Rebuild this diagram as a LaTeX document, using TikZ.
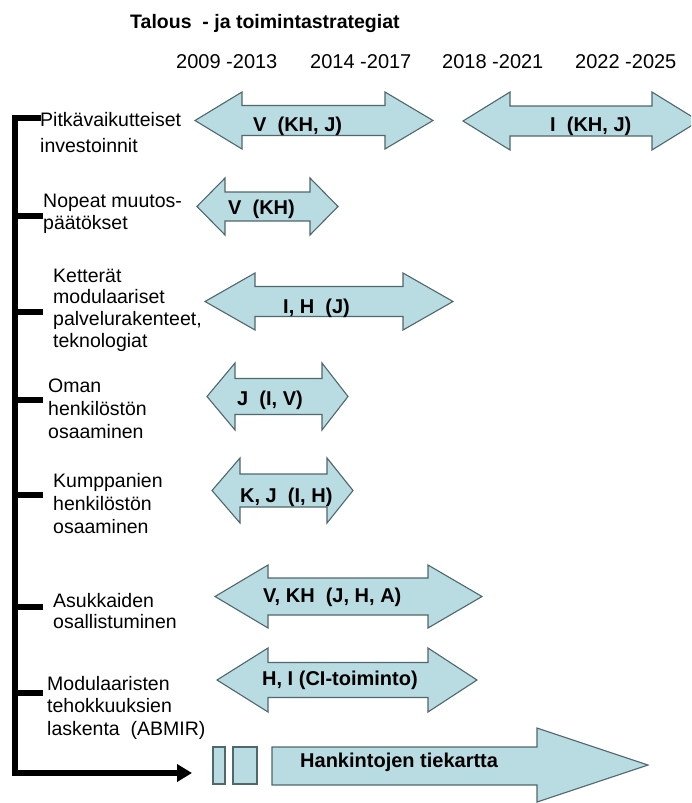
\documentclass[tikz,border=0pt]{standalone}
\usepackage{fontspec}
\setmainfont{Liberation Sans}
\usetikzlibrary{arrows.meta}
\definecolor{bandfill}{HTML}{B8DCE2}
\definecolor{bandline}{HTML}{50676B}
% stacked lines whose base anchor is the first line's baseline
\newcommand\stacklines[1]{\begin{tabular}[t]{@{}l@{}}#1\end{tabular}}
% double-headed band arrow:
% #1 left tip x, #2 left head base x, #3 right head base x, #4 right tip x,
% #5 centre y, #6 head half height, #7 shaft half height
\newcommand\twoway[7]{%
  \draw[band] (#1,#5) -- (#2,#5-#6) -- (#2,#5-#7) -- (#3,#5-#7) -- (#3,#5-#6)
    -- (#4,#5) -- (#3,#5+#6) -- (#3,#5+#7) -- (#2,#5+#7) -- (#2,#5+#6) -- cycle;}
\begin{document}
\begin{tikzpicture}[x=1pt,y=-1pt,
  band/.style={fill=bandfill,draw=bandline,line width=1.1pt,line join=miter},
  bandtext/.style={anchor=base west,inner sep=0pt,font=\fontsize{20}{24}\selectfont\bfseries},
  lbl/.style={anchor=base west,inner sep=0pt,font=\fontsize{19.5}{22.5}\selectfont},
  yearlbl/.style={anchor=base west,inner sep=0pt,font=\fontsize{20}{24}\selectfont},
  spine/.style={line width=6pt,line join=miter,black}]
\useasboundingbox (0,0) rectangle (691,803);

% heading and periods
\node[anchor=base west,inner sep=0pt,font=\fontsize{19.5}{24}\selectfont\bfseries] (title) at (130,28) {Talous\ \ - ja toimintastrategiat};
\node[yearlbl] (y1) at (176,68) {2009 -2013};
\node[yearlbl] (y2) at (310,68) {2014 -2017};
\node[yearlbl] (y3) at (442,68) {2018 -2021};
\node[yearlbl] (y4) at (575,68) {2022 -2025};

% row labels
\node[lbl] (l1) at (40,126.5) {\stacklines{Pitkävaikutteiset\\[3pt] investoinnit}};
\node[lbl] (l2) at (43,207) {\stacklines{Nopeat muutos-\\[-0.5pt] päätökset}};
\node[lbl] (l3) at (53,282) {\stacklines{Ketterät\\[-0.8pt] modulaariset\\[-0.8pt] palvelurakenteet,\\[-0.8pt] teknologiat}};
\node[lbl] (l4) at (48,392) {\stacklines{Oman\\[0.5pt] henkilöstön\\[0.5pt] osaaminen}};
\node[lbl] (l5) at (53,487) {\stacklines{Kumppanien\\[0.5pt] henkilöstön\\[0.5pt] osaaminen}};
\node[lbl] (l6) at (53,607) {\stacklines{Asukkaiden\\[-1.5pt] osallistuminen}};
\node[lbl] (l7) at (47,690) {\stacklines{Modulaaristen\\ tehokkuuksien\\ laskenta\ \ (ABMIR)}};

% bracket spine with its ticks
\coordinate (s0) at (41,118);
\coordinate (stop) at (15,118);
\coordinate (sbot) at (15,773);
\coordinate (send) at (192,773);
\draw[spine,-{Triangle[length=15pt,width=17pt]}] (s0) -- (stop) -- (sbot) -- (send);
\foreach \k/\ty in {2/216,3/312,4/400,5/495,6/607,7/693}{
  \coordinate (t\k a) at (15,\ty);
  \coordinate (t\k b) at (43,\ty);
  \draw[spine] (t\k a) -- (t\k b);
}

% time bands
\twoway{195}{242}{385}{433}{120.5}{28.5}{15}
\begin{scope}
  \clip (0,0) rectangle (691,803);
  \twoway{463}{510}{652}{699}{121}{29}{15}
\end{scope}
\twoway{197}{225}{310}{338}{206.5}{28.5}{14.5}
\twoway{205}{255}{403}{453}{301.5}{28.5}{15}
\twoway{207}{235}{322}{348}{396.5}{33.5}{18}
\twoway{212}{240}{327}{353}{490.5}{32.5}{16.5}
\twoway{215}{268}{428}{482}{596.5}{31.5}{18.5}
\twoway{217}{268}{428}{477}{680}{32}{17.5}

\node[bandtext] (a1) at (253,131) {V\ \ (KH, J)};
\node[bandtext] (a2) at (550,131) {I\ \ (KH, J)};
\node[bandtext] (a3) at (228,214) {V\ \ (KH)};
\node[bandtext] (a4) at (283,313) {I, H\ \ (J)};
\node[bandtext] (a5) at (237,405) {J\ \ (I, V)};
\node[bandtext] (a6) at (240,502) {K, J\ \ (I, H)};
\node[bandtext] (a7) at (263,602) {V, KH\ \ (J, H, A)};
\node[bandtext] (a8) at (262,685) {H, I (CI-toiminto)};

% procurement roadmap
\draw[band] (213,747) rectangle (225,784);
\draw[band] (233,747) rectangle (257,784);
\draw[band] (272,747) -- (537,747) -- (537,728) -- (648,765) -- (537,802)
  -- (537,785) -- (272,785) -- cycle;
\node[bandtext] (road) at (300,767) {Hankintojen tiekartta};
\end{tikzpicture}
\end{document}
